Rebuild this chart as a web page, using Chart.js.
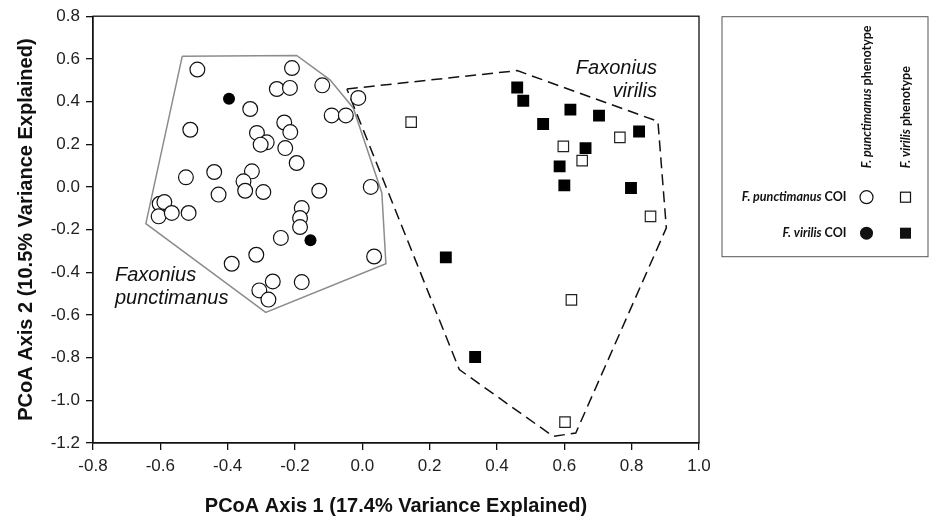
<!DOCTYPE html>
<html>
<head>
<meta charset="utf-8">
<title>PCoA - Faxonius punctimanus / virilis</title>
<script src="https://cdn.jsdelivr.net/npm/chart.js@4.4.1/dist/chart.umd.min.js"></script>
<style>
  html, body { margin: 0; padding: 0; background: #fff; }
  #wrap { width: 929px; height: 517px; }
</style>
</head>
<body>
<div id="wrap"><canvas id="pcoa-chart" width="929" height="517"></canvas></div>
<script>
// --- Data: [axis 1, axis 2] ---

// F. punctimanus COI, F. punctimanus phenotype (open circles)
const punctCoiPunctPheno = [
    [-0.490, 0.550], [-0.333, 0.365], [-0.511, 0.268], [-0.313, 0.253], [-0.284, 0.209],
    [-0.302, 0.198], [-0.232, 0.302], [-0.214, 0.257], [-0.229, 0.182], [-0.195, 0.112],
    [-0.209, 0.557], [-0.254, 0.459], [-0.215, 0.464], [-0.119, 0.476], [-0.012, 0.417],
    [-0.091, 0.335], [-0.049, 0.335], [-0.524, 0.045], [-0.440, 0.070], [-0.427, -0.036],
    [-0.328, 0.073], [-0.353, 0.026], [-0.348, -0.018], [-0.294, -0.024], [-0.128, -0.018],
    [0.025, 0.000], [-0.602, -0.079], [-0.588, -0.071], [-0.605, -0.138], [-0.566, -0.122],
    [-0.516, -0.122], [-0.180, -0.099], [-0.185, -0.146], [-0.185, -0.188], [-0.242, -0.239],
    [-0.315, -0.318], [-0.388, -0.360], [0.035, -0.326], [-0.266, -0.443], [-0.306, -0.485],
    [-0.279, -0.528], [-0.180, -0.446]
];

// F. virilis COI, F. punctimanus phenotype (filled circles)
const virilisCoiPunctPheno = [[-0.396, 0.413], [-0.154, -0.250]];

// F. punctimanus COI, F. virilis phenotype (open squares)
const punctCoiVirilisPheno = [
    [0.145, 0.304], [0.765, 0.232], [0.597, 0.190], [0.653, 0.123],
    [0.856, -0.138], [0.621, -0.529], [0.602, -1.102]
];

// F. virilis COI, F. virilis phenotype (filled squares)
const virilisCoiVirilisPheno = [
    [0.460, 0.466], [0.478, 0.404], [0.537, 0.295], [0.618, 0.362], [0.703, 0.334],
    [0.822, 0.260], [0.663, 0.182], [0.586, 0.096], [0.600, 0.007], [0.798, -0.005],
    [0.248, -0.330], [0.335, -0.797]
];

// Convex hulls around each phenotype group (closed)
const punctimanusHull = [
    [-0.535, 0.612], [-0.195, 0.616], [-0.096, 0.502], [-0.027, 0.370], [0.058, -0.028],
    [0.070, -0.360], [-0.287, -0.588], [-0.643, -0.172], [-0.535, 0.612]
];
const virilisHull = [
    [-0.046, 0.459], [0.460, 0.545], [0.878, 0.307], [0.903, -0.192], [0.634, -1.153],
    [0.567, -1.169], [0.288, -0.856], [-0.046, 0.459]
];

const xRange = [-0.8, 1.0];
const yRange = [-1.2, 0.8];
const tickStep = 0.2;

const xTitle = 'PCoA Axis 1 (17.4% Variance Explained)';
const yTitle = 'PCoA Axis 2 (10.5% Variance Explained)';

const toXY = pts => pts.map(p => ({ x: p[0], y: p[1] }));

const ARIAL = "'Liberation Sans', Arial, sans-serif";
const LEGEND_FONT = "Lato, 'Open Sans', sans-serif";
const LEGEND_SIZE = 12.5;

// Frame, in-plot labels, axis titles and the custom legend box
const decorPlugin = {
    id: 'decor',
    afterDatasetsDraw(chart) {
        const { ctx, chartArea: a } = chart;
        ctx.save();
        ctx.strokeStyle = '#111';
        ctx.lineWidth = 1.3;
        ctx.strokeRect(a.left, a.top, a.right - a.left, a.bottom - a.top);
        ctx.restore();
    },
    afterDraw(chart) {
        const { ctx, chartArea: a } = chart;
        ctx.save();
        ctx.fillStyle = '#111';

        // group names inside the plot
        ctx.font = 'italic 20px ' + ARIAL;
        ctx.textBaseline = 'middle';
        ctx.textAlign = 'left';
        ctx.fillText('Faxonius', a.left + 22, a.top + 259);
        ctx.fillText('punctimanus', a.left + 22, a.top + 282);
        ctx.textAlign = 'right';
        ctx.fillText('Faxonius', a.left + 564, a.top + 52);
        ctx.fillText('virilis', a.left + 564, a.top + 75);

        // axis titles
        ctx.font = 'bold 20px ' + ARIAL;
        ctx.textAlign = 'center';
        ctx.fillText(xTitle, (a.left + a.right) / 2, a.bottom + 63.5);
        ctx.save();
        ctx.translate(a.left - 67, (a.top + a.bottom) / 2);
        ctx.rotate(-Math.PI / 2);
        ctx.fillText(yTitle, 0, 0);
        ctx.restore();

        // legend box
        const lx = a.right + 22.5;
        const ly = a.top;
        ctx.strokeStyle = '#555';
        ctx.lineWidth = 1;
        ctx.strokeRect(lx + 0.5, ly + 0.5, 206, 240);

        const col1 = lx + 145;
        const col2 = lx + 184;
        const row1 = ly + 181;
        const row2 = ly + 217;

        // column headers (rotated)
        ctx.textBaseline = 'middle';
        ctx.textAlign = 'left';
        const header = (x, italicPart, rest) => {
            ctx.save();
            ctx.translate(x, ly + 152);
            ctx.rotate(-Math.PI / 2);
            ctx.font = 'italic bold ' + LEGEND_SIZE + 'px ' + LEGEND_FONT;
            ctx.fillText(italicPart, 0, 0);
            const w = ctx.measureText(italicPart).width;
            ctx.font = 'bold ' + LEGEND_SIZE + 'px ' + LEGEND_FONT;
            ctx.fillText(rest, w, 0);
            ctx.restore();
        };
        header(col1, 'F. punctimanus', ' phenotype');
        header(col2, 'F. virilis', ' phenotype');

        // row labels (right aligned)
        const rowLabel = (y, italicPart, rest) => {
            const right = lx + 125;
            ctx.font = 'bold ' + LEGEND_SIZE + 'px ' + LEGEND_FONT;
            const wRest = ctx.measureText(rest).width;
            ctx.textAlign = 'right';
            ctx.fillText(rest, right, y);
            ctx.font = 'italic bold ' + LEGEND_SIZE + 'px ' + LEGEND_FONT;
            ctx.fillText(italicPart, right - wRest, y);
        };
        rowLabel(row1, 'F. punctimanus', ' COI');
        rowLabel(row2, 'F. virilis', ' COI');

        // symbols
        ctx.lineWidth = 1.2;
        ctx.strokeStyle = '#111';
        ctx.beginPath();
        ctx.arc(col1, row1, 6.5, 0, Math.PI * 2);
        ctx.fillStyle = '#fff';
        ctx.fill();
        ctx.stroke();
        ctx.fillStyle = '#111';
        ctx.beginPath();
        ctx.arc(col1, row2, 6.5, 0, Math.PI * 2);
        ctx.fill();
        ctx.strokeRect(col2 - 5, row1 - 5, 10, 10);
        ctx.fillRect(col2 - 5.5, row2 - 5.5, 11, 11);

        ctx.restore();
    }
};

const ctx = document.getElementById('pcoa-chart');

new Chart(ctx, {
    type: 'scatter',
    data: {
        datasets: [
            {
                label: 'punctimanus hull',
                data: toXY(punctimanusHull),
                showLine: true,
                borderColor: '#8c8c8c',
                borderWidth: 1.5,
                pointRadius: 0,
                tension: 0,
                order: 3
            },
            {
                label: 'virilis hull',
                data: toXY(virilisHull),
                showLine: true,
                borderColor: '#111',
                borderWidth: 1.5,
                borderDash: [11, 6],
                pointRadius: 0,
                tension: 0,
                order: 2
            },
            {
                label: 'F. punctimanus COI / F. punctimanus phenotype',
                data: toXY(punctCoiPunctPheno),
                pointStyle: 'circle',
                pointRadius: 7.4,
                borderWidth: 1.2,
                borderColor: '#111',
                backgroundColor: '#fff',
                order: 1
            },
            {
                label: 'F. virilis COI / F. punctimanus phenotype',
                data: toXY(virilisCoiPunctPheno),
                pointStyle: 'circle',
                pointRadius: 6,
                borderWidth: 0,
                borderColor: '#000',
                backgroundColor: '#000',
                order: 1
            },
            {
                label: 'F. punctimanus COI / F. virilis phenotype',
                data: toXY(punctCoiVirilisPheno),
                pointStyle: 'rect',
                pointRadius: 7.4,
                borderWidth: 1.2,
                borderColor: '#222',
                backgroundColor: '#fff',
                order: 1
            },
            {
                label: 'F. virilis COI / F. virilis phenotype',
                data: toXY(virilisCoiVirilisPheno),
                pointStyle: 'rect',
                pointRadius: 8.4,
                borderWidth: 0,
                borderColor: '#000',
                backgroundColor: '#000',
                order: 1
            }
        ]
    },
    options: {
        responsive: false,
        devicePixelRatio: 1,
        animation: false,
        layout: { padding: { left: 0, top: 16, right: 230, bottom: 0 } },
        plugins: {
            legend: { display: false },
            tooltip: { enabled: false }
        },
        scales: {
            x: {
                type: 'linear',
                min: xRange[0],
                max: xRange[1],
                afterFit: scale => { scale.height = 74; },
                border: { display: true, color: '#111', width: 1.3 },
                grid: { drawOnChartArea: false, drawTicks: true, tickLength: 7, color: '#111', lineWidth: 1.3 },
                ticks: {
                    stepSize: tickStep,
                    padding: 6,
                    color: '#222',
                    font: { family: ARIAL, size: 17 },
                    maxRotation: 0,
                    callback: v => v.toFixed(1)
                }
            },
            y: {
                type: 'linear',
                min: yRange[0],
                max: yRange[1],
                afterFit: scale => { scale.width = 93; },
                border: { display: true, color: '#111', width: 1.3 },
                grid: { drawOnChartArea: false, drawTicks: true, tickLength: 7, color: '#111', lineWidth: 1.3 },
                ticks: {
                    stepSize: tickStep,
                    padding: 6,
                    color: '#222',
                    font: { family: ARIAL, size: 17 },
                    callback: v => v.toFixed(1)
                }
            }
        }
    },
    plugins: [decorPlugin]
});
</script>
</body>
</html>
